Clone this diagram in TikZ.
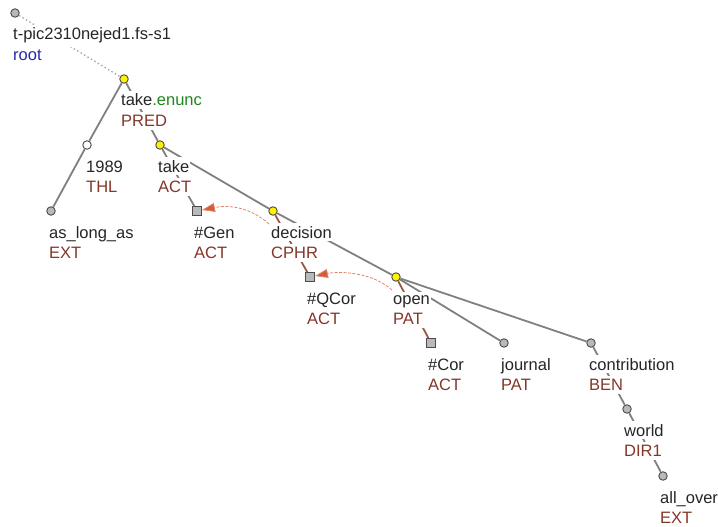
\documentclass[tikz,border=0pt]{standalone}
\usepackage{fontspec}
\setmainfont{Liberation Sans}
\usepackage{xcolor}
\usetikzlibrary{arrows.meta, positioning}
\definecolor{edgegray}{RGB}{128,128,128}
\definecolor{rolebrown}{RGB}{132,54,40}
\definecolor{rootblue}{RGB}{40,40,170}
\definecolor{enuncgreen}{RGB}{30,135,30}
\definecolor{corefred}{RGB}{214,92,56}
\definecolor{stubbrown}{RGB}{150,90,70}

\begin{document}
\begin{tikzpicture}[
  x=1pt, y=-1pt,
  dot/.style={circle, draw=black!70, line width=0.9pt, inner sep=0pt, minimum size=8.5pt, fill=gray!55},
  hub/.style={dot, fill=yellow},
  open dot/.style={dot, fill=white},
  hidden/.style={rectangle, draw=black!70, line width=0.9pt, inner sep=0pt, minimum size=9pt, fill=gray!55},
  edge/.style={line width=1.8pt, edgegray},
  stub/.style={line width=1.8pt, stubbrown},
  lemma/.style={anchor=base west, fill=white, inner xsep=1pt, inner ysep=3.2pt, text=black!85, font=\fontsize{16.5}{20}\selectfont},
  role/.style={lemma, text=rolebrown},
  coref/.style={line width=0.8pt, corefred!75, dash pattern=on 3pt off 1.5pt, -{Triangle[length=13pt, width=9pt, fill=corefred]}}
]
  \useasboundingbox (0,0) rectangle (718,527);

  % nodes
  \node[dot]      (root)    at (15,13)   {};
  \node[hub]      (enunc)   at (124,79)  {};
  \node[open dot] (thl)     at (87,145)  {};
  \node[dot]      (ext)     at (51,211)  {};
  \node[hub]      (act)     at (160,145) {};
  \node[hidden]   (gen)     at (197,211) {};
  \node[hub]      (cphr)    at (273,211) {};
  \node[hidden]   (qcor)    at (310,277) {};
  \node[hub]      (pat)     at (396,277) {};
  \node[hidden]   (cor)     at (431,343) {};
  \node[dot]      (journal) at (504,343) {};
  \node[dot]      (ben)     at (591,343) {};
  \node[dot]      (dir)     at (627,409) {};
  \node[dot]      (extb)    at (663,476) {};

  % edges
  \draw[line width=1.3pt, gray!70, dash pattern=on 1.5pt off 2.5pt] (root) -- (enunc);
  \draw[edge] (enunc) -- (thl);
  \draw[edge] (thl) -- (ext);
  \draw[edge] (enunc) -- (act);
  \draw[edge] (act) -- (gen);
  \draw[edge] (act) -- (cphr);
  \draw[stub] (cphr) -- (qcor);
  \draw[edge] (cphr) -- (pat);
  \draw[stub] (pat) -- (cor);
  \draw[edge] (pat) -- (journal);
  \draw[edge] (pat) -- (ben);
  \draw[edge] (ben) -- (dir);
  \draw[edge] (dir) -- (extb);

  % labels
  \node[lemma] (rootA)    at ([shift={(-3,27)}]root.center)    {t-pic2310nejed1.fs-s1};
  \node[lemma, text=rootblue] (rootB) at ([shift={(-3,47.5)}]root.center) {root};
  \node[lemma] (enuncA)   at ([shift={(-4,27)}]enunc.center)   {take\textcolor{enuncgreen}{.enunc}};
  \node[role]  (enuncB)   at ([shift={(-4,47.5)}]enunc.center) {PRED};
  \node[lemma] (thlA)     at ([shift={(-2,27)}]thl.center)     {1989};
  \node[role]  (thlB)     at ([shift={(-2,47.5)}]thl.center)   {THL};
  \node[lemma] (extA)     at ([shift={(-3,27)}]ext.center)     {as\_long\_as};
  \node[role]  (extB)     at ([shift={(-3,47.5)}]ext.center)   {EXT};
  \node[lemma] (actA)     at ([shift={(-3,27)}]act.center)     {take};
  \node[role]  (actB)     at ([shift={(-3,47.5)}]act.center)   {ACT};
  \node[lemma] (genA)     at ([shift={(-4,27)}]gen.center)     {\#Gen};
  \node[role]  (genB)     at ([shift={(-4,47.5)}]gen.center)   {ACT};
  \node[lemma] (cphrA)    at ([shift={(-3,27)}]cphr.center)    {decision};
  \node[role]  (cphrB)    at ([shift={(-3,47.5)}]cphr.center)  {CPHR};
  \node[lemma] (qcorA)    at ([shift={(-4,27)}]qcor.center)    {\#QCor};
  \node[role]  (qcorB)    at ([shift={(-4,47.5)}]qcor.center)  {ACT};
  \node[lemma] (patA)     at ([shift={(-4,27)}]pat.center)     {open};
  \node[role]  (patB)     at ([shift={(-4,47.5)}]pat.center)   {PAT};
  \node[lemma] (corA)     at ([shift={(-4,27)}]cor.center)     {\#Cor};
  \node[role]  (corB)     at ([shift={(-4,47.5)}]cor.center)   {ACT};
  \node[lemma] (journalA) at ([shift={(-4,27)}]journal.center) {journal};
  \node[role]  (journalB) at ([shift={(-4,47.5)}]journal.center) {PAT};
  \node[lemma] (benA)     at ([shift={(-3,27)}]ben.center)     {contribution};
  \node[role]  (benB)     at ([shift={(-3,47.5)}]ben.center)   {BEN};
  \node[lemma] (dirA)     at ([shift={(-4,27)}]dir.center)     {world};
  \node[role]  (dirB)     at ([shift={(-4,47.5)}]dir.center)   {DIR1};
  \node[lemma] (extbA)    at ([shift={(-4,27)}]extb.center)    {all\_over};
  \node[role]  (extbB)    at ([shift={(-4,47.5)}]extb.center)  {EXT};

  % coreference
  \draw[coref] ([shift={(-4,13)}]cphr.center) .. controls +(-20,-18) and +(30,-6) .. (gen);
  \draw[coref] ([shift={(-4,13)}]pat.center) .. controls +(-20,-18) and +(30,-6) .. (qcor);
\end{tikzpicture}
\end{document}
